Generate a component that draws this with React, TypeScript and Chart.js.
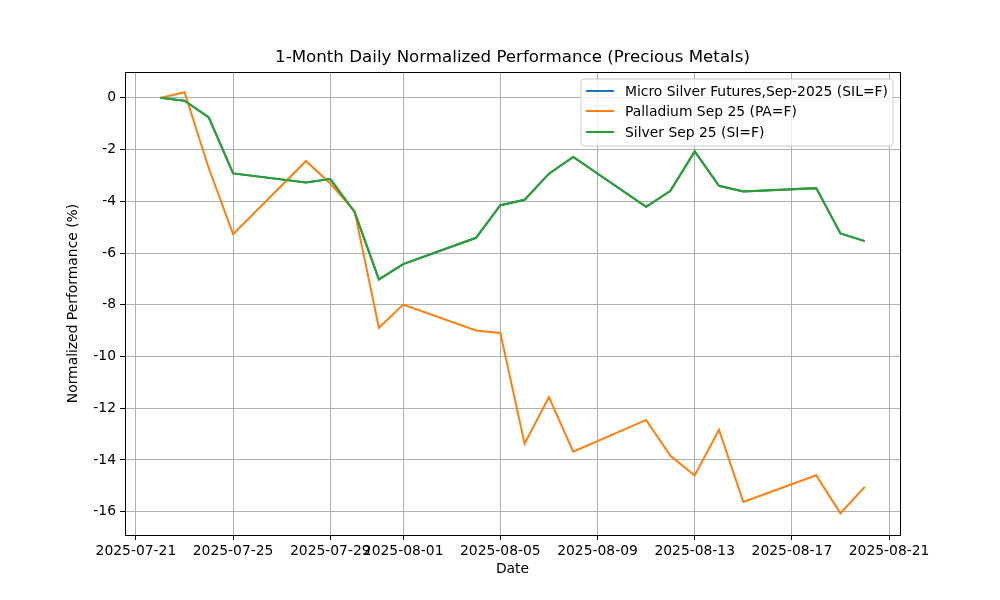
import React, { useEffect, useRef } from "react";
import { Chart, registerables } from "chart.js";

Chart.register(...registerables);

const dates = [
  "2025-07-22", "2025-07-23", "2025-07-24", "2025-07-25", "2025-07-28", "2025-07-29",
  "2025-07-30", "2025-07-31", "2025-08-01", "2025-08-04", "2025-08-05", "2025-08-06",
  "2025-08-07", "2025-08-08", "2025-08-11", "2025-08-12", "2025-08-13", "2025-08-14",
  "2025-08-15", "2025-08-18", "2025-08-19", "2025-08-20",
];

const microSilver = [
  0, -0.11, -0.76, -2.92, -3.27, -3.14, -4.41, -7.02, -6.43, -5.41, -4.15, -3.94,
  -2.93, -2.28, -4.21, -3.59, -2.07, -3.4, -3.62, -3.49, -5.24, -5.54,
];

const palladium = [
  0, 0.22, -2.72, -5.27, -2.44, -3.31, -4.38, -8.89, -7.99, -8.99, -9.09, -13.37,
  -11.57, -13.68, -12.45, -13.84, -14.6, -12.83, -15.62, -14.59, -16.06, -15.04,
];

const silver = [
  0, -0.11, -0.76, -2.92, -3.27, -3.14, -4.41, -7.02, -6.43, -5.41, -4.15, -3.94,
  -2.93, -2.28, -4.21, -3.59, -2.07, -3.4, -3.62, -3.49, -5.24, -5.54,
];

const seriesNames = [
  "Micro Silver Futures,Sep-2025 (SIL=F)",
  "Palladium Sep 25 (PA=F)",
  "Silver Sep 25 (SI=F)",
];
const seriesColors = ["#1f77b4", "#ff7f0e", "#2ca02c"];

const xTickLabels = [
  "2025-07-21", "2025-07-25", "2025-07-29", "2025-08-01", "2025-08-05",
  "2025-08-09", "2025-08-13", "2025-08-17", "2025-08-21",
];
const yTickValues = [0, -2, -4, -6, -8, -10, -12, -14, -16];

const TITLE = "1-Month Daily Normalized Performance (Precious Metals)";
const X_TITLE = "Date";
const Y_TITLE = "Normalized Performance (%)";

const BASE = Date.UTC(2025, 6, 21);
const dayNum = (s: string) => {
  const [y, m, d] = s.split("-").map(Number);
  return (Date.UTC(y, m - 1, d) - BASE) / 86400000;
};
const dayLabel = (v: number) => {
  const dt = new Date(BASE + Math.round(v) * 86400000);
  const mm = String(dt.getUTCMonth() + 1).padStart(2, "0");
  const dd = String(dt.getUTCDate()).padStart(2, "0");
  return `${dt.getUTCFullYear()}-${mm}-${dd}`;
};

const FONT = "'DejaVu Sans', sans-serif";
const FS = 13.89;

const decorPlugin = {
  id: "decor",
  afterDraw(chart: any) {
    const { ctx, chartArea } = chart;
    const { left, right, top, bottom } = chartArea;
    ctx.save();
    // frame
    ctx.strokeStyle = "#000";
    ctx.lineWidth = 1;
    ctx.strokeRect(Math.round(left) + 0.5, Math.round(top) + 0.5, Math.round(right - left), Math.round(bottom - top));
    // title
    ctx.fillStyle = "#000";
    ctx.textAlign = "center";
    ctx.textBaseline = "middle";
    ctx.font = `16.67px ${FONT}`;
    ctx.fillText(TITLE, (left + right) / 2, 58);
    // x title
    ctx.font = `${FS}px ${FONT}`;
    ctx.fillText(X_TITLE, (left + right) / 2, 569);
    // y title
    ctx.save();
    ctx.translate(73, (top + bottom) / 2);
    ctx.rotate(-Math.PI / 2);
    ctx.fillText(Y_TITLE, 0, 0);
    ctx.restore();
    // legend
    const lx = 581, ly = 79, lw = 312, lh = 67, r = 3;
    ctx.beginPath();
    ctx.moveTo(lx + r, ly);
    ctx.lineTo(lx + lw - r, ly);
    ctx.arcTo(lx + lw, ly, lx + lw, ly + r, r);
    ctx.lineTo(lx + lw, ly + lh - r);
    ctx.arcTo(lx + lw, ly + lh, lx + lw - r, ly + lh, r);
    ctx.lineTo(lx + r, ly + lh);
    ctx.arcTo(lx, ly + lh, lx, ly + lh - r, r);
    ctx.lineTo(lx, ly + r);
    ctx.arcTo(lx, ly, lx + r, ly, r);
    ctx.closePath();
    ctx.fillStyle = "rgba(255,255,255,0.8)";
    ctx.fill();
    ctx.strokeStyle = "#cccccc";
    ctx.lineWidth = 1;
    ctx.stroke();
    const rows = [91, 111, 132];
    ctx.textAlign = "left";
    ctx.textBaseline = "middle";
    ctx.font = `${FS}px ${FONT}`;
    seriesNames.forEach((name, i) => {
      ctx.strokeStyle = seriesColors[i];
      ctx.lineWidth = 2;
      ctx.beginPath();
      ctx.moveTo(586, rows[i]);
      ctx.lineTo(614, rows[i]);
      ctx.stroke();
      ctx.fillStyle = "#000";
      ctx.fillText(name, 625, rows[i] + 1);
    });
    ctx.restore();
  },
};

export default function App() {
  const ref = useRef<HTMLCanvasElement | null>(null);
  useEffect(() => {
    if (!ref.current) return;
    const xs = dates.map(dayNum);
    const all = [microSilver, palladium, silver];
    const orders = [2, 1, 0];
    const chart = new Chart(ref.current, {
      type: "line",
      data: {
        datasets: all.map((vals, i) => ({
          label: seriesNames[i],
          data: vals.map((v, j) => ({ x: xs[j], y: v })),
          borderColor: seriesColors[i],
          backgroundColor: seriesColors[i],
          borderWidth: 2,
          pointRadius: 0,
          tension: 0,
          fill: false,
          order: orders[i],
        })),
      },
      options: {
        responsive: false,
        animation: false,
        devicePixelRatio: 1,
        layout: { padding: { left: 0, top: 72, right: 100, bottom: 0 } },
        plugins: {
          legend: { display: false },
          title: { display: false },
          tooltip: { enabled: false },
        },
        scales: {
          x: {
            type: "linear",
            min: -0.45,
            max: 31.45,
            afterBuildTicks: (scale: any) => {
              scale.ticks = xTickLabels.map((s) => ({ value: dayNum(s) }));
            },
            afterFit: (scale: any) => {
              scale.height = 65;
            },
            ticks: {
              autoSkip: false,
              maxRotation: 0,
              minRotation: 0,
              padding: 3,
              color: "#000",
              font: { family: FONT, size: FS },
              callback: (v: any) => dayLabel(Number(v)),
            },
            grid: {
              color: "#b0b0b0",
              lineWidth: 1,
              tickColor: "#000",
              tickLength: 5,
            },
            border: { display: true, color: "#000", width: 1 },
          },
          y: {
            type: "linear",
            min: -16.9,
            max: 1.0,
            afterBuildTicks: (scale: any) => {
              scale.ticks = yTickValues.map((v) => ({ value: v }));
            },
            afterFit: (scale: any) => {
              scale.width = 125;
            },
            ticks: {
              padding: 4,
              color: "#000",
              font: { family: FONT, size: FS },
              callback: (v: any) => String(v),
            },
            grid: {
              color: "#b0b0b0",
              lineWidth: 1,
              tickColor: "#000",
              tickLength: 5,
            },
            border: { display: true, color: "#000", width: 1 },
          },
        },
      },
      plugins: [decorPlugin],
    });
    return () => chart.destroy();
  }, []);
  return (
    <div style={{ position: "absolute", left: 0, top: 0, width: 1000, height: 600, background: "#fff" }}>
      <canvas ref={ref} width={1000} height={600} style={{ width: 1000, height: 600, display: "block" }} />
    </div>
  );
}
